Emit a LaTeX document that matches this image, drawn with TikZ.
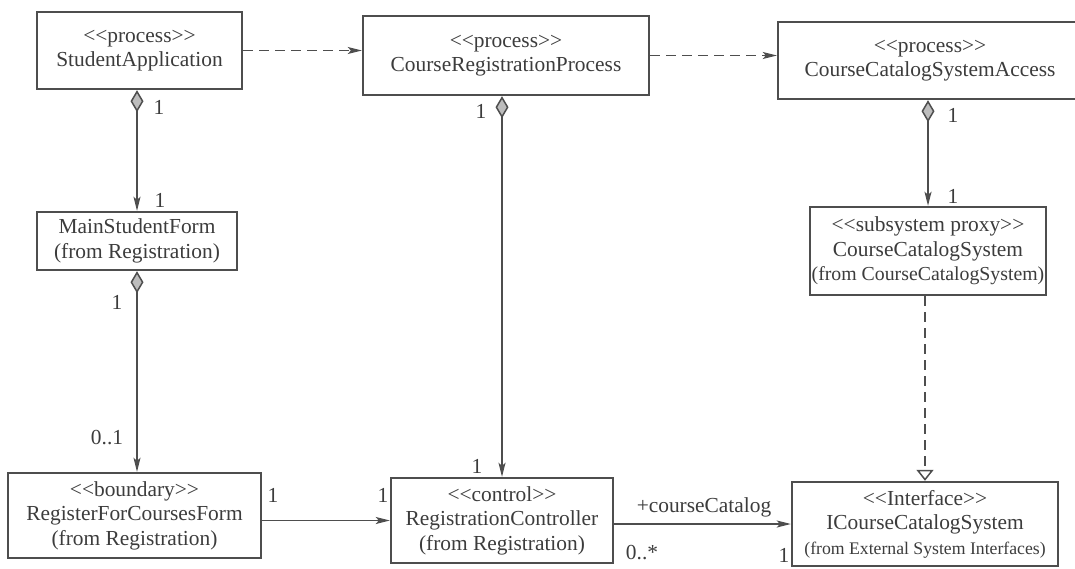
\documentclass[tikz,border=0pt]{standalone}
\usepackage{fontspec}
\setmainfont{Liberation Serif}
\usetikzlibrary{arrows.meta}
\definecolor{ink}{HTML}{3C3C3C}
\definecolor{edge}{HTML}{4E4E4E}
\definecolor{diafill}{HTML}{BDBDBD}
% stereotype brackets kept as two separate characters
\newcommand\stO{<\kern0pt<}
\newcommand\stC{>\kern0pt>}
\newcommand\fromsmall[1]{{\fontsize{19.8}{24}\selectfont #1}}
\newcommand\fromtiny[1]{{\fontsize{17.7}{24}\selectfont #1}}

\begin{document}
\begin{tikzpicture}[x=1pt,y=-1pt,
  cls/.style={draw=edge, line width=2.4pt, fill=white, text=ink, align=center,
    inner sep=0pt, font=\fontsize{21.4}{24.5}\selectfont},
  mult/.style={text=ink, inner sep=0pt, font=\fontsize{21.4}{24}\selectfont},
  conn/.style={draw=edge, line width=1.5pt},
  nav/.style={conn, -{Stealth[length=14pt,width=7pt,inset=3pt]}},
  agg/.style={conn, {Diamond[length=22pt,width=13pt,fill=diafill,line width=1.5pt]}-{Stealth[length=14pt,width=7pt,inset=3pt]}},
  dep/.style={conn, dash pattern=on 10pt off 6pt, -{Stealth[length=14pt,width=7pt,inset=3pt]}},
  real/.style={conn, dash pattern=on 10pt off 6pt, -{Triangle[open,length=11pt,width=17pt,line width=1.5pt]}}
]
\useasboundingbox (0,0) rectangle (1075,568);

% classes
\node[cls, minimum width=205pt, minimum height=77pt] (sa) at (139.5,50.5)
  {\stO process\stC\\StudentApplication};
\node[cls, minimum width=286pt, minimum height=79pt] (crp) at (506,55.5)
  {\stO process\stC\\CourseRegistrationProcess};
\node[cls, minimum width=304pt, minimum height=77pt] (ccsa) at (930,60.5)
  {\stO process\stC\\CourseCatalogSystemAccess};
\node[cls, minimum width=200pt, minimum height=58pt] (msf) at (137,241)
  {MainStudentForm\\(from Registration)};
\node[cls, minimum width=236pt, minimum height=88pt] (proxy) at (928,251)
  {\stO subsystem proxy\stC\\CourseCatalogSystem\\\fromsmall{(from CourseCatalogSystem)}};
\node[cls, minimum width=253pt, minimum height=85pt] (rfcf) at (134.5,515.5)
  {\stO boundary\stC\\RegisterForCoursesForm\\(from Registration)};
\node[cls, minimum width=222pt, minimum height=85pt] (rc) at (502,520.5)
  {\stO control\stC\\RegistrationController\\(from Registration)};
\node[cls, minimum width=266pt, minimum height=84pt] (icss) at (925,524)
  {\stO Interface\stC\\ICourseCatalogSystem\\\fromtiny{(from External System Interfaces)}};

% dependencies between processes
\draw[dep] (sa.east) -- (sa.east -| crp.west);
\draw[dep] (crp.east) -- (crp.east -| ccsa.west);

% aggregations
\draw[agg] (sa.south -| msf.north) -- (msf.north);
\draw[agg] (msf.south) -- (msf.south |- rfcf.north);
\draw[agg] (crp.south -| rc.north) -- (rc.north);
\draw[agg] (ccsa.south -| proxy.north) -- (proxy.north);

% realization of the interface
\draw[real] (icss.north |- proxy.south) -- (icss.north);

% associations
\draw[nav] (rc.west -| rfcf.east) -- (rc.west);
\draw[nav] (icss.west -| rc.east) -- (icss.west);

% multiplicities and role
\node[mult] (m1) at (159,107) {1};
\node[mult] (m2) at (160,200) {1};
\node[mult] (m3) at (117,302) {1};
\node[mult] (m4) at (107,438) {0..1};
\node[mult] (m5) at (481,111) {1};
\node[mult] (m6) at (477,466) {1};
\node[mult] (m7) at (953,115) {1};
\node[mult] (m8) at (953,196) {1};
\node[mult] (m9) at (273,495) {1};
\node[mult] (m10) at (383,495) {1};
\node[mult] (role) at (704,507) {+courseCatalog};
\node[mult] (m11) at (642,553) {0..*};
\node[mult] (m12) at (784,555) {1};
\end{tikzpicture}
\end{document}
